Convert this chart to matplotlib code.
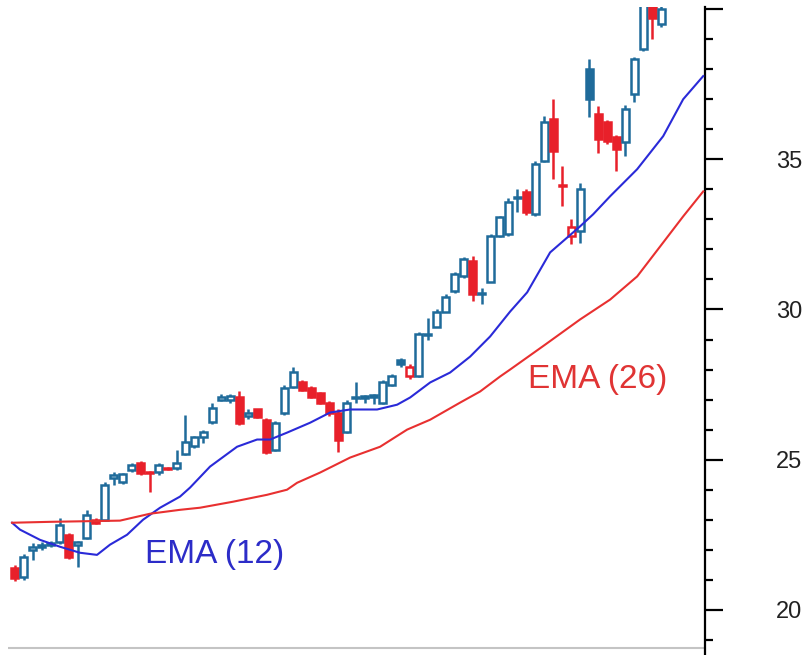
# Candlestick chart with 12 and 26 period EMA lines

import numpy as np
from matplotlib import pyplot as plt
from matplotlib import font_manager
from matplotlib.ticker import MultipleLocator, FixedLocator, FixedFormatter

# %% Data: one candle per trading day
opens = [21.40, 21.10, 22.00, 22.10, 22.17, 22.27, 22.50, 22.15, 22.40, 23.00,
         23.00, 24.40, 24.27, 24.67, 24.90, 24.60, 24.60, 24.72, 24.73, 25.20,
         25.45, 25.77, 26.27, 27.00, 26.98, 27.07, 26.45, 26.67, 26.33, 25.33,
         26.57, 27.43, 27.60, 27.40, 27.23, 26.90, 26.57, 25.93, 27.05, 27.06,
         27.10, 26.90, 27.50, 28.33, 27.77, 27.77, 29.15, 29.43, 29.93, 30.60,
         31.10, 31.60, 30.50, 30.93, 32.43, 32.50, 33.70, 33.90, 33.17, 34.93,
         36.33, 34.15, 32.43, 32.60, 38.00, 36.50, 36.23, 35.73, 35.57, 37.17,
         38.67, 40.20, 39.50]
closes = [21.07, 21.77, 22.10, 22.17, 22.23, 22.83, 21.77, 22.25, 23.17, 22.90,
          24.17, 24.50, 24.52, 24.83, 24.57, 24.55, 24.83, 24.70, 24.90, 25.60,
          25.75, 25.93, 26.73, 27.10, 27.12, 26.23, 26.55, 26.43, 25.27, 26.23,
          27.40, 27.93, 27.33, 27.10, 26.90, 26.57, 25.67, 26.90, 27.10, 27.12,
          27.14, 27.57, 27.77, 28.17, 28.10, 29.17, 29.20, 29.93, 30.43, 31.17,
          31.67, 30.50, 30.55, 32.43, 33.07, 33.57, 33.75, 33.23, 34.83, 36.23,
          35.27, 34.10, 32.73, 34.00, 37.00, 35.67, 35.60, 35.33, 36.67, 38.33,
          40.40, 39.70, 40.00]
highs = [21.50, 21.85, 22.23, 22.25, 22.30, 23.07, 22.55, 22.30, 23.33, 23.05,
         24.27, 24.60, 24.55, 24.90, 24.95, 24.62, 24.90, 24.75, 25.33, 26.50,
         25.80, 26.00, 26.90, 27.20, 27.20, 27.27, 26.70, 26.70, 26.40, 26.30,
         27.50, 28.10, 27.65, 27.45, 27.25, 26.95, 26.70, 27.00, 27.57, 27.15,
         27.20, 27.65, 27.85, 28.40, 28.20, 29.25, 29.73, 30.00, 30.50, 31.25,
         31.75, 31.77, 30.73, 32.50, 33.10, 33.70, 34.00, 34.00, 34.95, 36.43,
         37.00, 34.77, 33.00, 34.20, 38.33, 36.77, 36.30, 35.80, 36.80, 38.40,
         40.60, 40.40, 40.30]
lows = [20.95, 21.00, 21.67, 22.00, 22.10, 22.20, 21.70, 21.43, 22.35, 22.85,
        22.95, 24.17, 24.20, 24.60, 24.50, 23.93, 24.50, 24.65, 24.65, 25.15,
        25.40, 25.57, 26.20, 26.95, 26.90, 26.15, 26.35, 26.40, 25.20, 25.30,
        26.50, 27.40, 27.30, 27.05, 26.85, 26.45, 25.27, 25.90, 26.90, 26.90,
        26.85, 26.85, 27.45, 28.10, 27.70, 27.75, 29.00, 29.40, 29.90, 30.55,
        31.05, 30.27, 30.17, 30.90, 32.40, 32.45, 33.23, 33.15, 33.10, 34.90,
        34.33, 33.43, 32.17, 32.20, 36.40, 35.20, 35.50, 34.60, 35.10, 36.90,
        38.60, 39.00, 39.40]

# moving averages, sampled along the day axis
ema12_day = [-0.33, 0.56, 2.79, 5.02, 7.25, 9.14, 10.59, 12.49, 14.27, 16.17,
             18.39, 19.51, 21.74, 24.75, 26.98, 28.43, 30.32, 32.89, 35.12, 37.35,
             40.36, 42.59, 44.04, 46.27, 48.49, 50.72, 52.95, 55.18, 57.08, 59.64,
             62.99, 64.44, 66.33, 69.34, 72.24, 74.47, 76.70]
ema12 = [22.90, 22.67, 22.33, 22.10, 21.90, 21.83, 22.17, 22.50, 23.00, 23.40,
         23.77, 24.07, 24.77, 25.43, 25.67, 25.67, 25.90, 26.23, 26.57, 26.67,
         26.67, 26.83, 27.07, 27.57, 27.90, 28.43, 29.10, 29.93, 30.57, 31.90,
         32.77, 33.17, 33.77, 34.67, 35.77, 37.00, 37.77]
ema26_day = [-0.33, 3.90, 11.70, 15.05, 18.39, 20.62, 24.30, 28.09, 30.32, 31.44,
             34.00, 37.35, 40.69, 43.70, 46.27, 49.61, 51.84, 54.07, 55.18, 59.09,
             62.99, 66.33, 69.34, 72.24, 74.47, 76.70]
ema26 = [22.90, 22.93, 22.97, 23.20, 23.33, 23.40, 23.60, 23.83, 24.00, 24.23,
         24.57, 25.07, 25.43, 26.00, 26.33, 26.90, 27.27, 27.77, 28.00, 28.83,
         29.67, 30.33, 31.10, 32.23, 33.10, 33.93]

price_ticks = [20, 25, 30, 35, 40]
price_labels = ['20', '25', '30', '35', '']

up_col = '#1f6b9a'
down_col = '#e8202a'
y_low, y_high = 18.73, 40.07

# narrow font for the price scale if there is one
names = {f.name for f in font_manager.fontManager.ttflist}
tick_font = 'Liberation Sans Narrow' if 'Liberation Sans Narrow' in names else 'Liberation Sans'

# %% Candle colours: hollow when close > open, red when close < previous close
o, c, h, l = map(np.array, (opens, closes, highs, lows))
days = np.arange(len(o))
prev = np.r_[o[0], c[:-1]]
colors = np.where(c >= prev, up_col, down_col)
faces = np.where(c < o, colors, 'white')

fig = plt.figure(figsize=(8.1, 6.55), dpi=100)
ax = fig.add_axes([8/810, 0, 697/810, 648/655])

ax.vlines(days, l, h, colors=colors, lw=1.8, zorder=2)
ax.bar(days, c - o, bottom=o, width=0.78, color=faces, edgecolor=colors,
       linewidth=1.8, zorder=3)

ax.plot(ema12_day, ema12, color='#2a2ad8', lw=1.5, zorder=4)
ax.plot(ema26_day, ema26, color='#e83030', lw=1.5, zorder=4)
ax.axhline(y_low, color='#c4c4c4', lw=1.5, zorder=1)

ax.text(22.3, 21.83, 'EMA (12)', color='#2c2cc8', fontsize=24,
        family='Liberation Sans', ha='center', va='center')
ax.text(64.9, 27.67, 'EMA (26)', color='#e03434', fontsize=24,
        family='Liberation Sans', ha='center', va='center')

# %% Axes: price scale on the right only
ax.set_xlim(-0.78, 76.9)
ax.set_ylim(y_low - 7/30, y_high)
for side in ('left', 'top', 'bottom'):
    ax.spines[side].set_visible(False)
ax.spines['right'].set_linewidth(1.6)
ax.set_xticks([])
ax.yaxis.tick_right()
ax.yaxis.set_major_locator(FixedLocator(price_ticks))
ax.yaxis.set_major_formatter(FixedFormatter(price_labels))
ax.yaxis.set_minor_locator(MultipleLocator(1))
ax.tick_params(axis='y', which='major', length=13, width=1.6, pad=38,
               labelsize=17, labelcolor='#222222')
ax.tick_params(axis='y', which='minor', length=5.5, width=1.6)
for t in ax.get_yticklabels():
    t.set_family(tick_font)

fig.savefig('out.png', dpi=100)
